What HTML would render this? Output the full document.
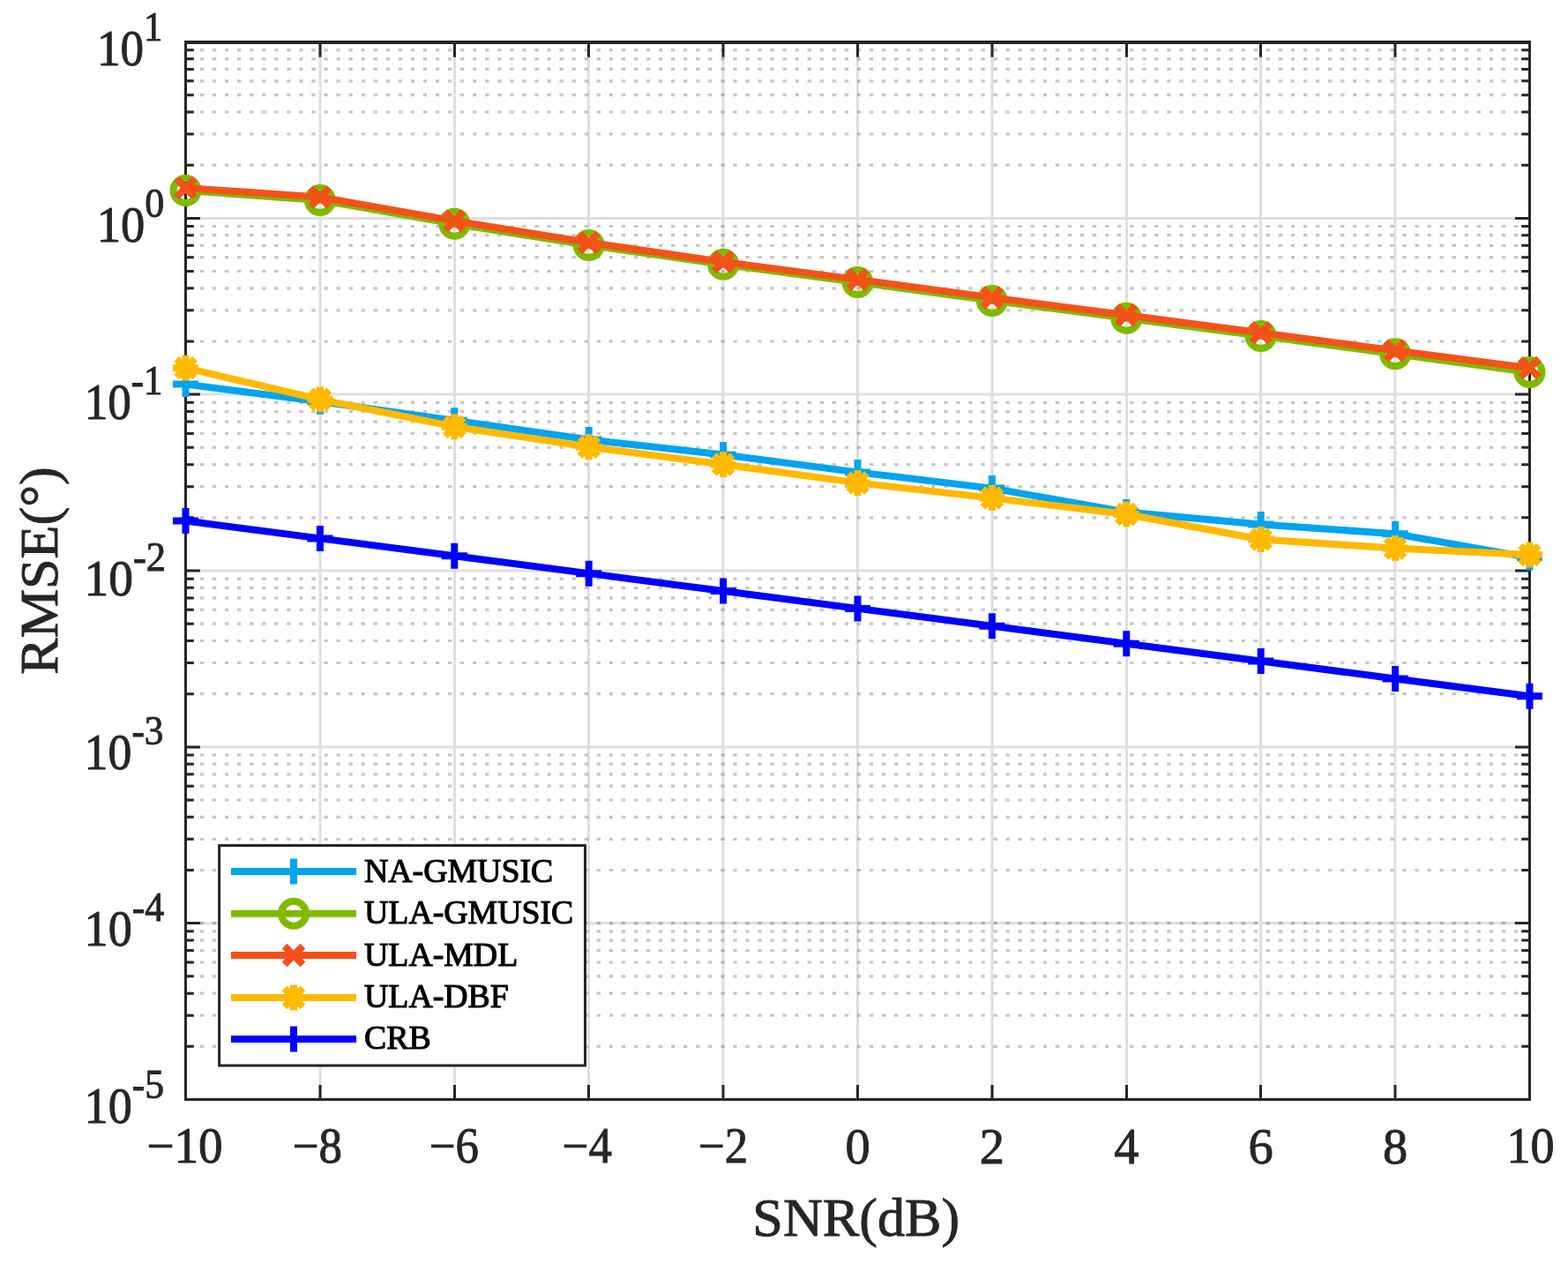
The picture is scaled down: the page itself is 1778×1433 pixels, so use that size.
<!DOCTYPE html>
<html><head><meta charset="utf-8"><style>
html,body{margin:0;padding:0;background:#fff;}
body{width:1778px;height:1433px;overflow:hidden;}
svg{display:block;}
</style></head><body>
<svg width="1778" height="1433" viewBox="0 0 1778 1433">
<rect x="0" y="0" width="1778" height="1433" fill="#ffffff"/>
<path d="M363.0 47.5V1246.5M515.5 47.5V1246.5M667.5 47.5V1246.5M820.0 47.5V1246.5M972.5 47.5V1246.5M1125.0 47.5V1246.5M1277.5 47.5V1246.5M1429.5 47.5V1246.5M1582.0 47.5V1246.5M210.5 247.5H1734.5M210.5 447.0H1734.5M210.5 647.0H1734.5M210.5 847.0H1734.5M210.5 1046.5H1734.5" stroke="#262626" stroke-opacity="0.15" stroke-width="3" fill="none"/>
<path d="M212.8 1186.34H1734.5M212.8 1151.16H1734.5M212.8 1126.19H1734.5M212.8 1106.82H1734.5M212.8 1091.00H1734.5M212.8 1077.62H1734.5M212.8 1066.03H1734.5M212.8 1055.81H1734.5M212.8 986.51H1734.5M212.8 951.32H1734.5M212.8 926.36H1734.5M212.8 906.99H1734.5M212.8 891.17H1734.5M212.8 877.79H1734.5M212.8 866.20H1734.5M212.8 855.98H1734.5M212.8 786.68H1734.5M212.8 751.49H1734.5M212.8 726.52H1734.5M212.8 707.16H1734.5M212.8 691.33H1734.5M212.8 677.95H1734.5M212.8 666.37H1734.5M212.8 656.14H1734.5M212.8 586.84H1734.5M212.8 551.66H1734.5M212.8 526.69H1734.5M212.8 507.32H1734.5M212.8 491.50H1734.5M212.8 478.12H1734.5M212.8 466.53H1734.5M212.8 456.31H1734.5M212.8 387.01H1734.5M212.8 351.82H1734.5M212.8 326.86H1734.5M212.8 307.49H1734.5M212.8 291.67H1734.5M212.8 278.29H1734.5M212.8 266.70H1734.5M212.8 256.48H1734.5M212.8 187.18H1734.5M212.8 151.99H1734.5M212.8 127.02H1734.5M212.8 107.66H1734.5M212.8 91.83H1734.5M212.8 78.45H1734.5M212.8 66.87H1734.5M212.8 56.64H1734.5M212.8 1046.67H1734.5" stroke="#1a1a1a" stroke-opacity="0.25" stroke-width="3.2" stroke-dasharray="4.3 9.757" fill="none"/>
<path d="M210.5 1246.5v-16.5M210.5 47.5v17.3M363.0 1246.5v-16.5M363.0 47.5v17.3M515.5 1246.5v-16.5M515.5 47.5v17.3M667.5 1246.5v-16.5M667.5 47.5v17.3M820.0 1246.5v-16.5M820.0 47.5v17.3M972.5 1246.5v-16.5M972.5 47.5v17.3M1125.0 1246.5v-16.5M1125.0 47.5v17.3M1277.5 1246.5v-16.5M1277.5 47.5v17.3M1429.5 1246.5v-16.5M1429.5 47.5v17.3M1582.0 1246.5v-16.5M1582.0 47.5v17.3M1734.5 1246.5v-16.5M1734.5 47.5v17.3M210.5 47.5h16.5M1734.5 47.5h-16.5M210.5 247.5h16.5M1734.5 247.5h-16.5M210.5 447.0h16.5M1734.5 447.0h-16.5M210.5 647.0h16.5M1734.5 647.0h-16.5M210.5 847.0h16.5M1734.5 847.0h-16.5M210.5 1046.5h16.5M1734.5 1046.5h-16.5M210.5 1246.5h16.5M1734.5 1246.5h-16.5M210.5 1186.34h9.3M1734.5 1186.34h-9.3M210.5 1151.16h9.3M1734.5 1151.16h-9.3M210.5 1126.19h9.3M1734.5 1126.19h-9.3M210.5 1106.82h9.3M1734.5 1106.82h-9.3M210.5 1091.00h9.3M1734.5 1091.00h-9.3M210.5 1077.62h9.3M1734.5 1077.62h-9.3M210.5 1066.03h9.3M1734.5 1066.03h-9.3M210.5 1055.81h9.3M1734.5 1055.81h-9.3M210.5 986.51h9.3M1734.5 986.51h-9.3M210.5 951.32h9.3M1734.5 951.32h-9.3M210.5 926.36h9.3M1734.5 926.36h-9.3M210.5 906.99h9.3M1734.5 906.99h-9.3M210.5 891.17h9.3M1734.5 891.17h-9.3M210.5 877.79h9.3M1734.5 877.79h-9.3M210.5 866.20h9.3M1734.5 866.20h-9.3M210.5 855.98h9.3M1734.5 855.98h-9.3M210.5 786.68h9.3M1734.5 786.68h-9.3M210.5 751.49h9.3M1734.5 751.49h-9.3M210.5 726.52h9.3M1734.5 726.52h-9.3M210.5 707.16h9.3M1734.5 707.16h-9.3M210.5 691.33h9.3M1734.5 691.33h-9.3M210.5 677.95h9.3M1734.5 677.95h-9.3M210.5 666.37h9.3M1734.5 666.37h-9.3M210.5 656.14h9.3M1734.5 656.14h-9.3M210.5 586.84h9.3M1734.5 586.84h-9.3M210.5 551.66h9.3M1734.5 551.66h-9.3M210.5 526.69h9.3M1734.5 526.69h-9.3M210.5 507.32h9.3M1734.5 507.32h-9.3M210.5 491.50h9.3M1734.5 491.50h-9.3M210.5 478.12h9.3M1734.5 478.12h-9.3M210.5 466.53h9.3M1734.5 466.53h-9.3M210.5 456.31h9.3M1734.5 456.31h-9.3M210.5 387.01h9.3M1734.5 387.01h-9.3M210.5 351.82h9.3M1734.5 351.82h-9.3M210.5 326.86h9.3M1734.5 326.86h-9.3M210.5 307.49h9.3M1734.5 307.49h-9.3M210.5 291.67h9.3M1734.5 291.67h-9.3M210.5 278.29h9.3M1734.5 278.29h-9.3M210.5 266.70h9.3M1734.5 266.70h-9.3M210.5 256.48h9.3M1734.5 256.48h-9.3M210.5 187.18h9.3M1734.5 187.18h-9.3M210.5 151.99h9.3M1734.5 151.99h-9.3M210.5 127.02h9.3M1734.5 127.02h-9.3M210.5 107.66h9.3M1734.5 107.66h-9.3M210.5 91.83h9.3M1734.5 91.83h-9.3M210.5 78.45h9.3M1734.5 78.45h-9.3M210.5 66.87h9.3M1734.5 66.87h-9.3M210.5 56.64h9.3M1734.5 56.64h-9.3" stroke="#262626" stroke-width="3" fill="none"/>
<rect x="210.5" y="47.5" width="1524.0" height="1199.0" stroke="#262626" stroke-width="3" fill="none"/>
<path d="M209.0 48.05H1736.0" stroke="#262626" stroke-width="3.8" fill="none"/>
<path d="M210.50 435.60 L362.90 455.20 L515.30 476.80 L667.70 498.40 L820.10 515.50 L972.50 535.40 L1124.90 553.60 L1277.30 580.40 L1429.70 594.50 L1582.10 605.20 L1734.50 632.10" stroke="#00A4EF" stroke-width="8" fill="none" stroke-linejoin="round"/>
<path d="M196.00 435.60h29.0M210.50 421.10v29.0" stroke="#00A4EF" stroke-width="8" fill="none"/>
<path d="M348.40 455.20h29.0M362.90 440.70v29.0" stroke="#00A4EF" stroke-width="8" fill="none"/>
<path d="M500.80 476.80h29.0M515.30 462.30v29.0" stroke="#00A4EF" stroke-width="8" fill="none"/>
<path d="M653.20 498.40h29.0M667.70 483.90v29.0" stroke="#00A4EF" stroke-width="8" fill="none"/>
<path d="M805.60 515.50h29.0M820.10 501.00v29.0" stroke="#00A4EF" stroke-width="8" fill="none"/>
<path d="M958.00 535.40h29.0M972.50 520.90v29.0" stroke="#00A4EF" stroke-width="8" fill="none"/>
<path d="M1110.40 553.60h29.0M1124.90 539.10v29.0" stroke="#00A4EF" stroke-width="8" fill="none"/>
<path d="M1262.80 580.40h29.0M1277.30 565.90v29.0" stroke="#00A4EF" stroke-width="8" fill="none"/>
<path d="M1415.20 594.50h29.0M1429.70 580.00v29.0" stroke="#00A4EF" stroke-width="8" fill="none"/>
<path d="M1567.60 605.20h29.0M1582.10 590.70v29.0" stroke="#00A4EF" stroke-width="8" fill="none"/>
<path d="M1720.00 632.10h29.0M1734.50 617.60v29.0" stroke="#00A4EF" stroke-width="8" fill="none"/>
<path d="M210.50 216.10 L362.90 226.90 L515.30 253.80 L667.70 278.00 L820.10 299.80 L972.50 320.10 L1124.90 340.90 L1277.30 360.70 L1429.70 380.90 L1582.10 401.30 L1734.50 422.00" stroke="#7FBA00" stroke-width="8" fill="none" stroke-linejoin="round"/>
<circle cx="210.50" cy="216.10" r="14.0" stroke="#7FBA00" stroke-width="8" fill="none"/>
<circle cx="362.90" cy="226.90" r="14.0" stroke="#7FBA00" stroke-width="8" fill="none"/>
<circle cx="515.30" cy="253.80" r="14.0" stroke="#7FBA00" stroke-width="8" fill="none"/>
<circle cx="667.70" cy="278.00" r="14.0" stroke="#7FBA00" stroke-width="8" fill="none"/>
<circle cx="820.10" cy="299.80" r="14.0" stroke="#7FBA00" stroke-width="8" fill="none"/>
<circle cx="972.50" cy="320.10" r="14.0" stroke="#7FBA00" stroke-width="8" fill="none"/>
<circle cx="1124.90" cy="340.90" r="14.0" stroke="#7FBA00" stroke-width="8" fill="none"/>
<circle cx="1277.30" cy="360.70" r="14.0" stroke="#7FBA00" stroke-width="8" fill="none"/>
<circle cx="1429.70" cy="380.90" r="14.0" stroke="#7FBA00" stroke-width="8" fill="none"/>
<circle cx="1582.10" cy="401.30" r="14.0" stroke="#7FBA00" stroke-width="8" fill="none"/>
<circle cx="1734.50" cy="422.00" r="14.0" stroke="#7FBA00" stroke-width="8" fill="none"/>
<path d="M210.50 213.00 L362.90 223.50 L515.30 250.40 L667.70 275.00 L820.10 297.00 L972.50 316.90 L1124.90 337.40 L1277.30 357.30 L1429.70 377.20 L1582.10 397.50 L1734.50 417.10" stroke="#F45219" stroke-width="8" fill="none" stroke-linejoin="round"/>
<path d="M200.10 202.60l20.8 20.8M200.10 223.40l20.8 -20.8" stroke="#F45219" stroke-width="8" fill="none"/>
<path d="M352.50 213.10l20.8 20.8M352.50 233.90l20.8 -20.8" stroke="#F45219" stroke-width="8" fill="none"/>
<path d="M504.90 240.00l20.8 20.8M504.90 260.80l20.8 -20.8" stroke="#F45219" stroke-width="8" fill="none"/>
<path d="M657.30 264.60l20.8 20.8M657.30 285.40l20.8 -20.8" stroke="#F45219" stroke-width="8" fill="none"/>
<path d="M809.70 286.60l20.8 20.8M809.70 307.40l20.8 -20.8" stroke="#F45219" stroke-width="8" fill="none"/>
<path d="M962.10 306.50l20.8 20.8M962.10 327.30l20.8 -20.8" stroke="#F45219" stroke-width="8" fill="none"/>
<path d="M1114.50 327.00l20.8 20.8M1114.50 347.80l20.8 -20.8" stroke="#F45219" stroke-width="8" fill="none"/>
<path d="M1266.90 346.90l20.8 20.8M1266.90 367.70l20.8 -20.8" stroke="#F45219" stroke-width="8" fill="none"/>
<path d="M1419.30 366.80l20.8 20.8M1419.30 387.60l20.8 -20.8" stroke="#F45219" stroke-width="8" fill="none"/>
<path d="M1571.70 387.10l20.8 20.8M1571.70 407.90l20.8 -20.8" stroke="#F45219" stroke-width="8" fill="none"/>
<path d="M1724.10 406.70l20.8 20.8M1724.10 427.50l20.8 -20.8" stroke="#F45219" stroke-width="8" fill="none"/>
<path d="M210.50 417.20 L362.90 452.80 L515.30 483.70 L667.70 506.70 L820.10 526.50 L972.50 547.40 L1124.90 564.60 L1277.30 583.00 L1429.70 611.50 L1582.10 621.60 L1734.50 628.90" stroke="#FFB900" stroke-width="8" fill="none" stroke-linejoin="round"/>
<path d="M196.00 417.20h29.0M210.50 402.70v29.0M200.10 406.80l20.8 20.8M200.10 427.60l20.8 -20.8" stroke="#FFB900" stroke-width="8" fill="none"/>
<path d="M348.40 452.80h29.0M362.90 438.30v29.0M352.50 442.40l20.8 20.8M352.50 463.20l20.8 -20.8" stroke="#FFB900" stroke-width="8" fill="none"/>
<path d="M500.80 483.70h29.0M515.30 469.20v29.0M504.90 473.30l20.8 20.8M504.90 494.10l20.8 -20.8" stroke="#FFB900" stroke-width="8" fill="none"/>
<path d="M653.20 506.70h29.0M667.70 492.20v29.0M657.30 496.30l20.8 20.8M657.30 517.10l20.8 -20.8" stroke="#FFB900" stroke-width="8" fill="none"/>
<path d="M805.60 526.50h29.0M820.10 512.00v29.0M809.70 516.10l20.8 20.8M809.70 536.90l20.8 -20.8" stroke="#FFB900" stroke-width="8" fill="none"/>
<path d="M958.00 547.40h29.0M972.50 532.90v29.0M962.10 537.00l20.8 20.8M962.10 557.80l20.8 -20.8" stroke="#FFB900" stroke-width="8" fill="none"/>
<path d="M1110.40 564.60h29.0M1124.90 550.10v29.0M1114.50 554.20l20.8 20.8M1114.50 575.00l20.8 -20.8" stroke="#FFB900" stroke-width="8" fill="none"/>
<path d="M1262.80 583.00h29.0M1277.30 568.50v29.0M1266.90 572.60l20.8 20.8M1266.90 593.40l20.8 -20.8" stroke="#FFB900" stroke-width="8" fill="none"/>
<path d="M1415.20 611.50h29.0M1429.70 597.00v29.0M1419.30 601.10l20.8 20.8M1419.30 621.90l20.8 -20.8" stroke="#FFB900" stroke-width="8" fill="none"/>
<path d="M1567.60 621.60h29.0M1582.10 607.10v29.0M1571.70 611.20l20.8 20.8M1571.70 632.00l20.8 -20.8" stroke="#FFB900" stroke-width="8" fill="none"/>
<path d="M1720.00 628.90h29.0M1734.50 614.40v29.0M1724.10 618.50l20.8 20.8M1724.10 639.30l20.8 -20.8" stroke="#FFB900" stroke-width="8" fill="none"/>
<path d="M210.50 590.50 L362.90 610.38 L515.30 630.26 L667.70 650.14 L820.10 670.02 L972.50 689.90 L1124.90 709.78 L1277.30 729.66 L1429.70 749.54 L1582.10 769.42 L1734.50 789.30" stroke="#0000FF" stroke-width="8" fill="none" stroke-linejoin="round"/>
<path d="M196.00 590.50h29.0M210.50 576.00v29.0" stroke="#0000FF" stroke-width="8" fill="none"/>
<path d="M348.40 610.38h29.0M362.90 595.88v29.0" stroke="#0000FF" stroke-width="8" fill="none"/>
<path d="M500.80 630.26h29.0M515.30 615.76v29.0" stroke="#0000FF" stroke-width="8" fill="none"/>
<path d="M653.20 650.14h29.0M667.70 635.64v29.0" stroke="#0000FF" stroke-width="8" fill="none"/>
<path d="M805.60 670.02h29.0M820.10 655.52v29.0" stroke="#0000FF" stroke-width="8" fill="none"/>
<path d="M958.00 689.90h29.0M972.50 675.40v29.0" stroke="#0000FF" stroke-width="8" fill="none"/>
<path d="M1110.40 709.78h29.0M1124.90 695.28v29.0" stroke="#0000FF" stroke-width="8" fill="none"/>
<path d="M1262.80 729.66h29.0M1277.30 715.16v29.0" stroke="#0000FF" stroke-width="8" fill="none"/>
<path d="M1415.20 749.54h29.0M1429.70 735.04v29.0" stroke="#0000FF" stroke-width="8" fill="none"/>
<path d="M1567.60 769.42h29.0M1582.10 754.92v29.0" stroke="#0000FF" stroke-width="8" fill="none"/>
<path d="M1720.00 789.30h29.0M1734.50 774.80v29.0" stroke="#0000FF" stroke-width="8" fill="none"/>
<g font-family="Liberation Serif, Times New Roman, serif" fill="#262626" stroke="#262626" stroke-width="0.9">
<text transform="translate(209.50 0) scale(0.976 1)" x="0" y="1318.5" font-size="56.5" text-anchor="middle">−10</text>
<text transform="translate(359.90 0) scale(0.935 1)" x="0" y="1318.5" font-size="56.5" text-anchor="middle">−8</text>
<text transform="translate(514.80 0) scale(0.935 1)" x="0" y="1318.5" font-size="56.5" text-anchor="middle">−6</text>
<text transform="translate(665.70 0) scale(0.935 1)" x="0" y="1318.5" font-size="56.5" text-anchor="middle">−4</text>
<text transform="translate(820.10 0) scale(0.935 1)" x="0" y="1318.5" font-size="56.5" text-anchor="middle">−2</text>
<text x="972.50" y="1318.5" font-size="56.5" text-anchor="middle">0</text>
<text x="1124.90" y="1318.5" font-size="56.5" text-anchor="middle">2</text>
<text x="1277.30" y="1318.5" font-size="56.5" text-anchor="middle">4</text>
<text x="1429.70" y="1318.5" font-size="56.5" text-anchor="middle">6</text>
<text x="1582.10" y="1318.5" font-size="56.5" text-anchor="middle">8</text>
<text transform="translate(1735.50 0) scale(0.958 1)" x="0" y="1318.5" font-size="56.5" text-anchor="middle">10</text>
<text transform="translate(8.65 0) scale(0.9397 1)" x="187.0" y="74.00" font-size="56.5" text-anchor="end">10<tspan font-size="45.5" dy="-27.8">1</tspan></text>
<text transform="translate(5.84 0) scale(0.9649 1)" x="187.0" y="274.00" font-size="56.5" text-anchor="end">10<tspan font-size="45.5" dy="-27.8">0</tspan></text>
<text transform="translate(8.64 0) scale(0.9398 1)" x="187.0" y="474.90" font-size="56.5" text-anchor="end">10<tspan font-size="45.5" dy="-27.8">-1</tspan></text>
<text transform="translate(4.56 0) scale(0.9818 1)" x="187.0" y="674.90" font-size="56.5" text-anchor="end">10<tspan font-size="45.5" dy="-27.8">-2</tspan></text>
<text transform="translate(7.38 0) scale(0.9528 1)" x="187.0" y="872.00" font-size="56.5" text-anchor="end">10<tspan font-size="45.5" dy="-27.8">-3</tspan></text>
<text transform="translate(6.68 0) scale(0.9600 1)" x="187.0" y="1072.00" font-size="56.5" text-anchor="end">10<tspan font-size="45.5" dy="-27.8">-4</tspan></text>
<text transform="translate(6.72 0) scale(0.9596 1)" x="187.0" y="1272.90" font-size="56.5" text-anchor="end">10<tspan font-size="45.5" dy="-27.8">-5</tspan></text>
<text x="970.8" y="1401.4" font-size="62.2" text-anchor="middle">SNR(dB)</text>
<text transform="translate(65.3 647) rotate(-90)" x="0" y="0" font-size="62.2" text-anchor="middle">RMSE(°)</text>
</g>
<rect x="248.6" y="958.5" width="414.9" height="249.5" fill="#ffffff" stroke="#262626" stroke-width="3"/>
<path d="M262 988.00H404" stroke="#00A4EF" stroke-width="8" fill="none"/>
<path d="M318.50 988.00h29.0M333.00 973.50v29.0" stroke="#00A4EF" stroke-width="8" fill="none"/>
<text x="413.0" y="999.80" font-family="Liberation Serif, Times New Roman, serif" font-size="37.8" fill="#000000" stroke="#000000" stroke-width="1.1">NA-GMUSIC</text>
<path d="M262 1035.80H404" stroke="#7FBA00" stroke-width="8" fill="none"/>
<circle cx="333.00" cy="1035.80" r="14.0" stroke="#7FBA00" stroke-width="8" fill="none"/>
<text x="413.0" y="1047.30" font-family="Liberation Serif, Times New Roman, serif" font-size="37.8" fill="#000000" stroke="#000000" stroke-width="1.1">ULA-GMUSIC</text>
<path d="M262 1083.00H404" stroke="#F45219" stroke-width="8" fill="none"/>
<path d="M322.60 1072.60l20.8 20.8M322.60 1093.40l20.8 -20.8" stroke="#F45219" stroke-width="8" fill="none"/>
<text x="413.0" y="1094.80" font-family="Liberation Serif, Times New Roman, serif" font-size="37.8" fill="#000000" stroke="#000000" stroke-width="1.1">ULA-MDL</text>
<path d="M262 1130.90H404" stroke="#FFB900" stroke-width="8" fill="none"/>
<path d="M318.50 1130.90h29.0M333.00 1116.40v29.0M322.60 1120.50l20.8 20.8M322.60 1141.30l20.8 -20.8" stroke="#FFB900" stroke-width="8" fill="none"/>
<text x="413.0" y="1141.60" font-family="Liberation Serif, Times New Roman, serif" font-size="37.8" fill="#000000" stroke="#000000" stroke-width="1.1">ULA-DBF</text>
<path d="M262 1178.00H404" stroke="#0000FF" stroke-width="8" fill="none"/>
<path d="M318.50 1178.00h29.0M333.00 1163.50v29.0" stroke="#0000FF" stroke-width="8" fill="none"/>
<text x="413.0" y="1189.10" font-family="Liberation Serif, Times New Roman, serif" font-size="37.8" fill="#000000" stroke="#000000" stroke-width="1.1">CRB</text>
</svg>
</body></html>
